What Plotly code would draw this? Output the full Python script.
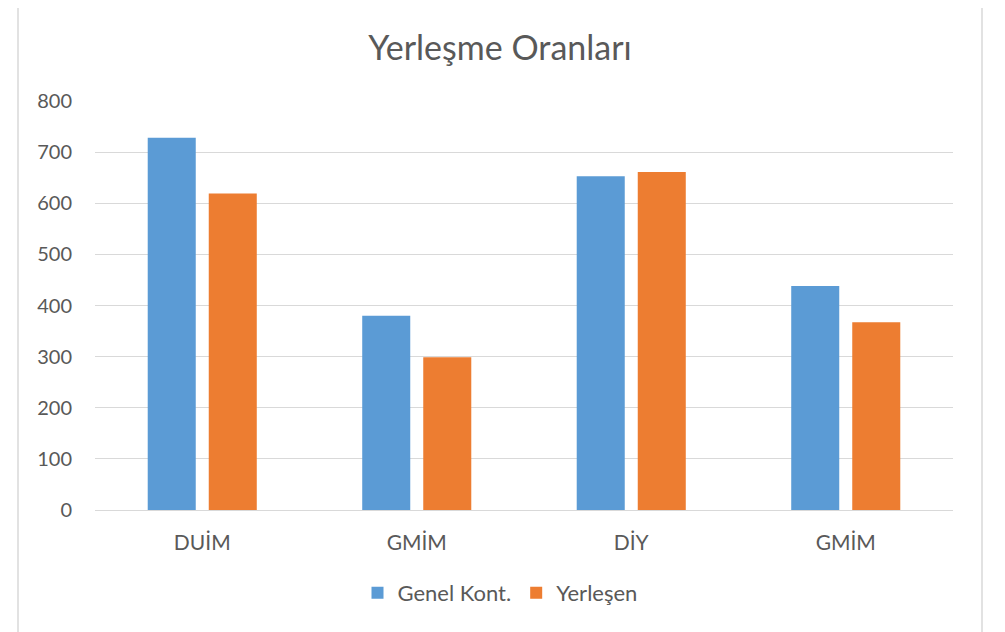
import plotly.graph_objects as go

categories = ["DUİM", "GMİM", "DİY", "GMİM"]
genel_kont = [728, 380, 653, 438]
yerlesen = [619, 299, 661, 367]
y_ticks = [0, 100, 200, 300, 400, 500, 600, 700, 800]

x_pos = list(range(len(categories)))

OFF = 8  # page body margin
W, H = 1005 - OFF, 632 - OFF
L, R, T, B = 95 - OFF, 953 - OFF, 101 - OFF, 510 - OFF
pw, ph = R - L, B - T

def px_x(p):
    return (p - OFF - L) / pw

def px_y(p):
    return (B - (p - OFF)) / ph

text_color = "#595959"
font_family = "Lato, 'Open Sans', sans-serif"

fig = go.Figure()
fig.add_trace(go.Bar(x=x_pos, y=genel_kont, name="Genel Kont.",
                     marker=dict(color="#5B9BD5", line=dict(width=0))))
fig.add_trace(go.Bar(x=x_pos, y=yerlesen, name="Yerleşen",
                     marker=dict(color="#ED7D31", line=dict(width=0))))

fig.update_layout(
    width=W, height=H,
    margin=dict(l=L, r=W - R, t=T, b=H - B, pad=0),
    paper_bgcolor="white", plot_bgcolor="white",
    barmode="group", bargap=0.431, bargroupgap=0.213,
    font=dict(family=font_family, color=text_color, size=20),
    title=dict(text="Yerleşme Oranları", x=px_x(500), xanchor="center", xref="paper",
               y=1 - (48 - OFF) / H, yanchor="middle",
               font=dict(size=34, color=text_color, family=font_family)),
    legend=dict(orientation="h", x=px_x(500), xanchor="center",
                y=px_y(593), yanchor="middle",
                font=dict(size=22, color=text_color),
                itemwidth=30, tracegroupgap=0, bgcolor="rgba(0,0,0,0)"),
    showlegend=True,
)

fig.update_xaxes(
    range=[-0.5, len(categories) - 0.5],
    tickmode="array", tickvals=x_pos, ticktext=categories,
    showgrid=False, zeroline=False, showline=False, ticks="",
    ticklabelstandoff=18,
    tickfont=dict(size=21, color=text_color),
)
fig.update_yaxes(
    range=[0, 800], tickmode="array", tickvals=y_ticks,
    showgrid=True, gridcolor="#D9D9D9", gridwidth=1.3,
    zeroline=True, zerolinecolor="#D9D9D9", zerolinewidth=1.3,
    showline=False, ticks="", ticklabelstandoff=22,
    tickfont=dict(size=20, color=text_color),
)

fig.add_shape(type="rect", xref="paper", yref="paper",
              x0=px_x(18), x1=px_x(982), y0=px_y(645), y1=px_y(3),
              line=dict(color="#D9D9D9", width=1.5), fillcolor="rgba(0,0,0,0)",
              layer="below")

fig.write_html("out.html")
